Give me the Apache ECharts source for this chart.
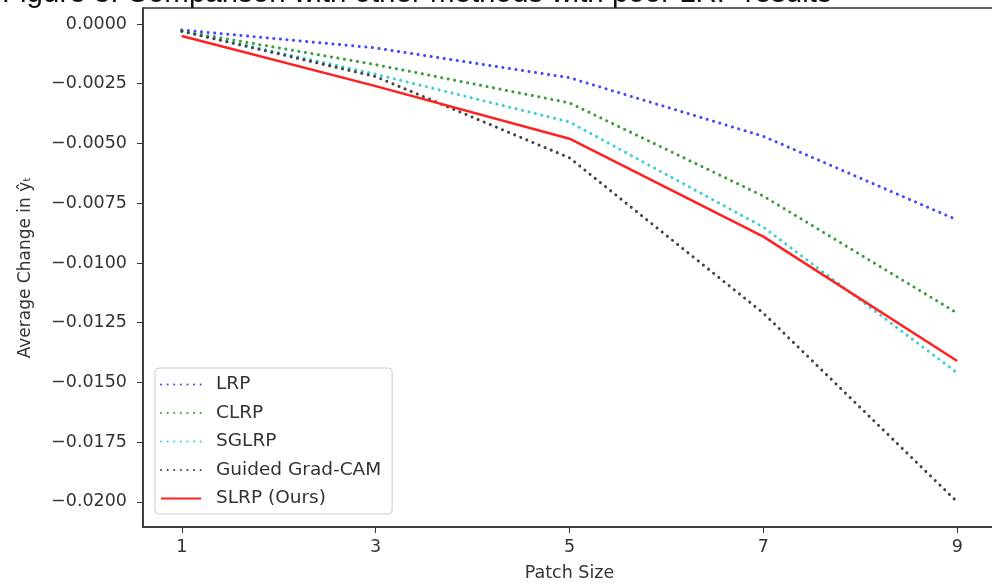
<!DOCTYPE html>
<html>
<head>
<meta charset="utf-8">
<script src="https://cdn.jsdelivr.net/npm/echarts@6/dist/echarts.min.js"></script>
<style>
  html, body { margin: 0; padding: 0; background: #fff; }
  #chart { width: 992px; height: 584px; }
</style>
</head>
<body>
<div id="chart"></div>
<script>
var patchSizes = [1, 3, 5, 7, 9];
var lrp = [-0.00025, -0.0010, -0.00225, -0.0047, -0.0082];
var clrp = [-0.0003, -0.0017, -0.0033, -0.0072, -0.0121];
var sglrp = [-0.0003, -0.0021, -0.0041, -0.0085, -0.0146];
var guided = [-0.0003, -0.0022, -0.0056, -0.0121, -0.0200];
var slrp = [-0.0005, -0.0026, -0.0048, -0.0089, -0.0141];
var yTicks = [0, -0.0025, -0.005, -0.0075, -0.01, -0.0125, -0.015, -0.0175, -0.02];
var xTicks = [1, 3, 5, 7, 9];

function pairs(vals) {
    return vals.map(function (v, i) { return [patchSizes[i], v]; });
}

function dotted(name, color, vals) {
    return {
        name: name,
        type: 'line',
        symbol: 'none',
        data: pairs(vals),
        lineStyle: { color: color, width: 3, type: [0.1, 6.5], cap: 'round' },
        itemStyle: { color: color }
    };
}

var chart = echarts.init(document.getElementById('chart'));
chart.setOption({
    backgroundColor: '#fff',
    animation: false,
    graphic: [{
        type: 'text',
        x: 2,
        y: 8.5,
        style: {
            text: 'Figure 3: Comparison with other methods with poor LRP results',
            font: '29.5px "Liberation Sans", Arial, sans-serif',
            fill: '#111',
            verticalAlign: 'bottom'
        }
    }],
    grid: {
        left: 143, top: 8, right: -4, bottom: 57,
        outerBoundsMode: 'none',
        show: true, borderColor: '#333', borderWidth: 1.5
    },
    legend: {
        orient: 'vertical',
        left: 155, top: 368,
        backgroundColor: '#fff',
        borderColor: '#ccc', borderWidth: 1, borderRadius: 4,
        padding: [7, 11, 6, 5],
        itemWidth: 40, itemHeight: 12, itemGap: 9.5,
        itemStyle: { opacity: 0 },
        textStyle: { fontFamily: 'DejaVu Sans', fontSize: 18.5, color: '#333', padding: [0, 0, 0, 10] },
        data: ['LRP', 'CLRP', 'SGLRP', 'Guided Grad-CAM', 'SLRP (Ours)']
    },
    xAxis: {
        type: 'value', min: 0.6, max: 9.4,
        name: 'Patch Size', nameLocation: 'middle', nameGap: 37,
        nameTextStyle: { fontFamily: 'DejaVu Sans', fontSize: 17.5, color: '#333' },
        axisLine: { show: true, onZero: false, lineStyle: { color: '#333', width: 1.5 } },
        axisTick: { show: true, length: 6, customValues: xTicks, lineStyle: { color: '#333' } },
        axisLabel: { customValues: xTicks, margin: 11, fontFamily: 'DejaVu Sans', fontSize: 17.5, color: '#333' },
        splitLine: { show: false }
    },
    yAxis: {
        type: 'value', min: -0.02105, max: 0.00067,
        name: 'Average Change in ŷₜ', nameLocation: 'middle', nameGap: 109,
        nameTextStyle: { fontFamily: 'DejaVu Sans', fontSize: 17, color: '#333' },
        axisLine: { show: true, onZero: false, lineStyle: { color: '#333', width: 1.5 } },
        axisTick: { show: true, length: 6, customValues: yTicks, lineStyle: { color: '#333' } },
        axisLabel: {
            customValues: yTicks, margin: 16,
            fontFamily: 'DejaVu Sans', fontSize: 17.5, color: '#333',
            formatter: function (v) {
                var s = Math.abs(v).toFixed(4);
                return v < 0 ? '\u2212' + s : s;
            }
        },
        splitLine: { show: false }
    },
    series: [
        dotted('LRP', '#4646ff', lrp),
        dotted('CLRP', '#3c9c3c', clrp),
        dotted('SGLRP', '#38d0d0', sglrp),
        dotted('Guided Grad-CAM', '#444', guided),
        {
            name: 'SLRP (Ours)',
            type: 'line',
            symbol: 'none',
            data: pairs(slrp),
            lineStyle: { color: '#ff2020', width: 2.5 },
            itemStyle: { color: '#ff2020' }
        }
    ]
});
</script>
</body>
</html>
